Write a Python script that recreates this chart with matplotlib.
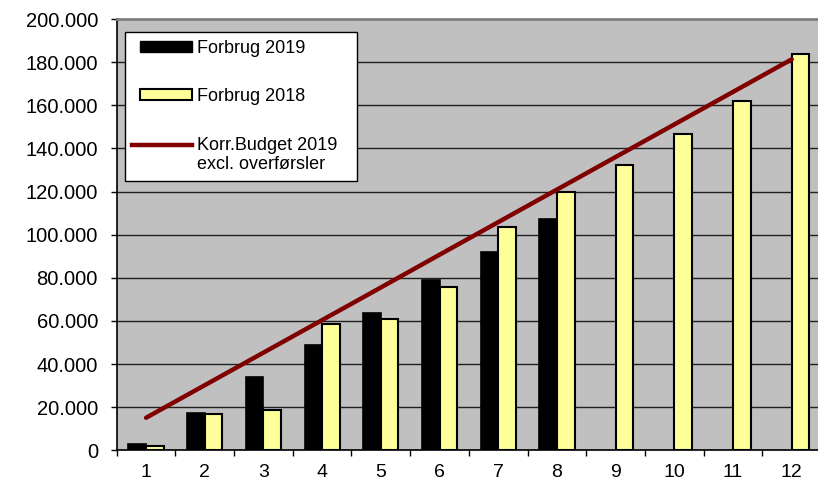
import numpy as np
import matplotlib.pyplot as plt
from matplotlib.patches import Patch, Rectangle
from matplotlib.lines import Line2D
from matplotlib.legend_handler import HandlerPatch, HandlerLine2D
from matplotlib.ticker import FuncFormatter, FixedLocator

plt.rcParams['font.family'] = ['Liberation Sans', 'DejaVu Sans']

maaneder = ['1', '2', '3', '4', '5', '6', '7', '8', '9', '10', '11', '12']
forbrug_2019 = [2900, 17200, 33800, 48800, 63700, 78800, 92100, 107300]
forbrug_2018 = [2100, 16900, 18800, 58600, 60700, 75700, 103500, 119600,
                132400, 146500, 162100, 183600]
budget_2019 = [15100, 30200, 45300, 60400, 75500, 90700, 105800, 120900,
               136000, 151100, 166200, 181300]

XOFF = 5.5  # indryk af legend-symboler (punkter)


def patch_inset(legend, orig_handle, xdescent, ydescent, width, height, fontsize):
    return Rectangle((XOFF - xdescent, -ydescent), width - XOFF, height)


class LineTop(HandlerLine2D):
    # symbolet flugter med foerste tekstlinje
    def create_artists(self, legend, orig_handle, xdescent, ydescent,
                       width, height, fontsize, trans):
        arts = super().create_artists(legend, orig_handle, xdescent, ydescent,
                                      width, height, fontsize, trans)
        for a in arts:
            xd = np.asarray(a.get_xdata(), dtype=float)
            yd = np.asarray(a.get_ydata(), dtype=float)
            if len(xd) == 2:
                a.set_xdata([xd[0] + XOFF, xd[1]])
            a.set_ydata(yd + 0.6 * fontsize)
        return arts


fig = plt.figure(figsize=(8.18, 4.84), dpi=100)
ax = fig.add_axes([0.1427, 0.0696, 0.8610, 0.8911])
ax.set_facecolor('#C0C0C0')

x = np.arange(len(maaneder))
bw = 0.3
x19 = np.arange(len(forbrug_2019))
ax.bar(x19 - bw / 2, forbrug_2019, width=bw, color='black', edgecolor='black',
       linewidth=1.2, zorder=3)
ax.bar(x + bw / 2, forbrug_2018, width=bw, color='#FFFF99', edgecolor='black',
       linewidth=1.5, zorder=3)
ax.plot(x, budget_2019, color='#800000', linewidth=3.2, solid_capstyle='round',
        zorder=4)

ax.set_xlim(-0.5, len(maaneder) - 0.5)
ax.set_ylim(0, 200000)
ax.set_yticks(np.arange(0, 200001, 20000))
ax.yaxis.set_major_formatter(FuncFormatter(lambda v, p: f'{int(v):,}'.replace(',', '.')))
ax.yaxis.grid(True, color='#202020', linewidth=1.0, zorder=0)
ax.set_axisbelow(True)

ax.xaxis.set_major_locator(FixedLocator(np.arange(-0.5, len(maaneder), 1)))
ax.xaxis.set_major_formatter(FuncFormatter(lambda v, p: ''))
ax.xaxis.set_minor_locator(FixedLocator(x))
ax.set_xticklabels(maaneder, minor=True)
ax.tick_params(axis='x', which='major', length=4.5, width=1, direction='out')
ax.tick_params(axis='x', which='minor', length=0, pad=10, labelsize=14)
ax.tick_params(axis='y', length=4.5, width=1, pad=9, labelsize=14.5)

ax.spines['right'].set_visible(False)
ax.spines['top'].set_color('#808080')
ax.spines['top'].set_linewidth(2)
ax.spines['left'].set_linewidth(1.2)
ax.spines['bottom'].set_linewidth(1.2)

h19 = Patch(facecolor='black', edgecolor='black')
h18 = Patch(facecolor='#FFFF99', edgecolor='black', linewidth=1.5)
hbud = Line2D([], [], color='#800000', linewidth=3.2)
labels = ['Forbrug 2019', 'Forbrug 2018', 'Korr.Budget 2019\nexcl. overførsler']
leg = ax.legend([h19, h18, hbud], labels, loc='upper left',
                bbox_to_anchor=(0.0118, 0.6, 0.329, 0.369), mode='expand',
                fontsize=13, frameon=True, fancybox=False, framealpha=1,
                edgecolor='black', handlelength=3.3, handleheight=0.55,
                handletextpad=0.3, labelspacing=1.75, borderpad=0.4,
                borderaxespad=0,
                handler_map={Patch: HandlerPatch(patch_func=patch_inset),
                             Line2D: LineTop()})
leg.get_frame().set_linewidth(1)

fig.savefig('out.png', dpi=100)
